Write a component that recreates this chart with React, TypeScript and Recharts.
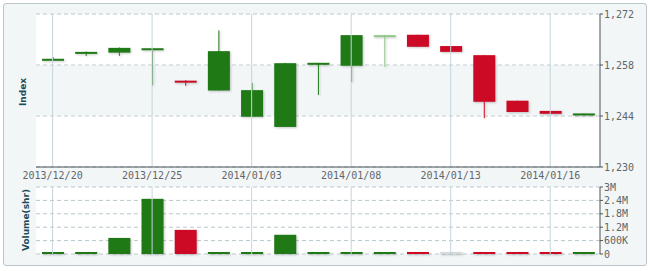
import {
  ComposedChart,
  Bar,
  Cell,
  XAxis,
  YAxis,
  CartesianGrid,
  ReferenceArea,
  ReferenceLine,
} from 'recharts'

// ─── Data ─────────────────────────────────────────────────────────────────────

const dates = [
  '2013/12/20', '2013/12/23', '2013/12/24', '2013/12/25', '2013/12/26', '2013/12/27',
  '2014/01/03', '2014/01/06', '2014/01/07', '2014/01/08', '2014/01/09', '2014/01/10',
  '2014/01/13', '2014/01/14', '2014/01/15', '2014/01/16', '2014/01/17',
]
const opens = [1259.5, 1261.4, 1261.4, 1262.5, 1253.7, 1251.0, 1243.8, 1241.0, 1258.4, 1257.8, 1266.2, 1266.3, 1263.2, 1260.7, 1248.2, 1245.4, 1244.5]
const highs = [1260.2, 1261.7, 1262.8, 1262.7, 1253.8, 1267.5, 1253.1, 1258.6, 1258.6, 1266.2, 1266.3, 1266.3, 1263.2, 1260.7, 1248.2, 1245.4, 1244.7]
const lows = [1259.4, 1260.5, 1260.5, 1252.4, 1252.3, 1251.0, 1243.8, 1241.0, 1249.8, 1253.3, 1257.5, 1263.0, 1261.6, 1243.4, 1245.1, 1244.6, 1244.5]
const closes = [1259.7, 1261.6, 1262.7, 1262.6, 1253.3, 1261.8, 1251.1, 1258.5, 1258.6, 1266.2, 1266.2, 1263.0, 1261.6, 1247.9, 1245.1, 1244.6, 1244.7]
const volumes = [90000, 50000, 720000, 2470000, 1080000, 80000, 50000, 860000, 80000, 80000, 70000, 50000, 0, 60000, 60000, 50000, 50000]

const priceTicks = [1230, 1244, 1258, 1272]
const volumeTicks = [0, 600000, 1200000, 1800000, 2400000, 3000000]
const gridDates = dates.filter((_, i) => i % 3 === 0)

// ─── Styles ───────────────────────────────────────────────────────────────────

const UP = '#1f7a16'
const DOWN = '#cc0a26'
const FLAT = '#93c98c'
const AXIS = '#4d5356'
const tickStyle = { fill: '#60676b', fontSize: 10, fontFamily: 'DejaVu Sans Mono' }

const rows = dates.map((d, i) => ({
  date: d,
  range: [lows[i], highs[i]],
  volume: volumes[i],
}))

function tone(i: number) {
  if (closes[i] > opens[i]) return UP
  if (closes[i] < opens[i]) return DOWN
  return FLAT
}

function formatVol(v: number) {
  if (v === 0) return '0'
  if (v < 1000000) return `${v / 1000}K`
  return `${v / 1000000}M`
}

// ─── Shapes ───────────────────────────────────────────────────────────────────

const Candle = (props: any) => {
  const { x, y, width, height, index } = props
  const top = Math.min(y, y + height)
  const h = Math.abs(height)
  const span = highs[index] - lows[index]
  const ppu = span > 0 ? h / span : 0
  const hiBody = Math.max(opens[index], closes[index])
  const loBody = Math.min(opens[index], closes[index])
  const bodyTop = top + (highs[index] - hiBody) * ppu
  const bodyH = Math.max(2, (hiBody - loBody) * ppu)
  const cx = x + width / 2
  const c = tone(index)
  return (
    <g style={{ filter: 'drop-shadow(1px 1px 1px rgba(0,0,0,0.22))' }}>
      <line x1={cx} x2={cx} y1={top} y2={top + h} stroke={c} strokeWidth={1} />
      <rect x={x} y={bodyTop} width={width} height={bodyH} fill={c} />
    </g>
  )
}

const VolBar = (props: any) => {
  const { x, y, width, height, fill } = props
  const h = Math.max(2, height)
  const c = volumes[props.index] === 0 ? '#d4d9db' : fill
  return (
    <rect
      x={x}
      y={y + height - h}
      width={width}
      height={h}
      fill={c}
      style={{ filter: 'drop-shadow(1px 1px 1px rgba(0,0,0,0.22))' }}
    />
  )
}

const sideLabel = (text: string, cx: number, cy: number) => (
  <div
    style={{
      position: 'absolute',
      left: cx - 50,
      top: cy - 7,
      width: 100,
      height: 14,
      lineHeight: '14px',
      textAlign: 'center',
      transform: 'rotate(-90deg)',
      fontFamily: 'DejaVu Sans',
      fontWeight: 'bold',
      fontSize: 9,
      color: '#1d4d5c',
    }}
  >
    {text}
  </div>
)

// ─── Component ────────────────────────────────────────────────────────────────

export default function App() {
  return (
    <div style={{ position: 'absolute', left: 0, top: 0, width: 650, height: 271, background: '#fff' }}>
      <div
        style={{
          position: 'absolute',
          left: 3,
          top: 3,
          width: 644,
          height: 263,
          boxSizing: 'border-box',
          border: '1px solid #bcc5c9',
          borderRadius: 3,
          background: '#f3f6f7',
        }}
      />
      {sideLabel('Index', 23, 92)}
      {sideLabel('Volume(shr)', 26, 220)}

      <div style={{ position: 'absolute', left: 0, top: 0 }}>
        <ComposedChart width={650} height={185} data={rows} margin={{ top: 14, right: 0, bottom: 0, left: 36 }}>
          <CartesianGrid
            xAxisId="b"
            yAxisId="p"
            vertical={false}
            stroke="#b8c8ce"
            strokeDasharray="4 3"
            fill="#ffffff"
            fillOpacity={1}
          />
          <ReferenceArea xAxisId="b" yAxisId="p" y1={1244} y2={1258} fill="#dfe8eb" fillOpacity={0.4} stroke="none" />
          {gridDates.map((d) => (
            <ReferenceLine key={d} xAxisId="b" yAxisId="p" x={d} stroke="#c6d5db" />
          ))}
          <XAxis
            xAxisId="b"
            dataKey="date"
            interval={2}
            height={18}
            tickSize={0}
            tickMargin={5}
            tickLine={false}
            tick={tickStyle}
            axisLine={{ stroke: AXIS }}
          />
          <XAxis xAxisId="t" dataKey="date" orientation="top" height={0} tick={false} tickLine={false} axisLine={{ stroke: AXIS }} />
          <YAxis yAxisId="l" orientation="left" width={0} domain={[1230, 1272]} tick={false} tickLine={false} axisLine={{ stroke: AXIS }} />
          <YAxis
            yAxisId="p"
            orientation="right"
            width={50}
            domain={[1230, 1272]}
            ticks={priceTicks}
            interval={0}
            tickFormatter={(v: number) => v.toLocaleString('en-US')}
            tickSize={3}
            tickMargin={1}
            tick={tickStyle}
            tickLine={{ stroke: AXIS }}
            axisLine={{ stroke: AXIS }}
          />
          <Bar xAxisId="b" yAxisId="p" dataKey="range" barSize={22} shape={Candle} isAnimationActive={false} />
        </ComposedChart>
      </div>

      <div style={{ position: 'absolute', left: 0, top: 180 }}>
        <ComposedChart width={650} height={80} data={rows} margin={{ top: 7, right: 0, bottom: 6, left: 36 }}>
          <CartesianGrid
            xAxisId="b"
            yAxisId="v"
            vertical={false}
            stroke="#b8c8ce"
            strokeDasharray="4 3"
            fill="#ffffff"
            fillOpacity={1}
          />
          {gridDates.map((d) => (
            <ReferenceLine key={d} xAxisId="b" yAxisId="v" x={d} stroke="#c6d5db" />
          ))}
          <XAxis xAxisId="b" dataKey="date" height={0} tick={false} tickLine={false} axisLine={{ stroke: AXIS }} />
          <YAxis yAxisId="l" orientation="left" width={0} domain={[0, 3000000]} tick={false} tickLine={false} axisLine={{ stroke: AXIS }} />
          <YAxis
            yAxisId="v"
            orientation="right"
            width={50}
            domain={[0, 3000000]}
            ticks={volumeTicks}
            interval={0}
            tickFormatter={formatVol}
            tickSize={3}
            tickMargin={1}
            tick={tickStyle}
            tickLine={{ stroke: AXIS }}
            axisLine={{ stroke: AXIS }}
          />
          <Bar xAxisId="b" yAxisId="v" dataKey="volume" barSize={22} shape={VolBar} isAnimationActive={false}>
            {rows.map((r, i) => (
              <Cell key={r.date} fill={closes[i] < opens[i] ? DOWN : UP} />
            ))}
          </Bar>
        </ComposedChart>
      </div>
    </div>
  )
}
